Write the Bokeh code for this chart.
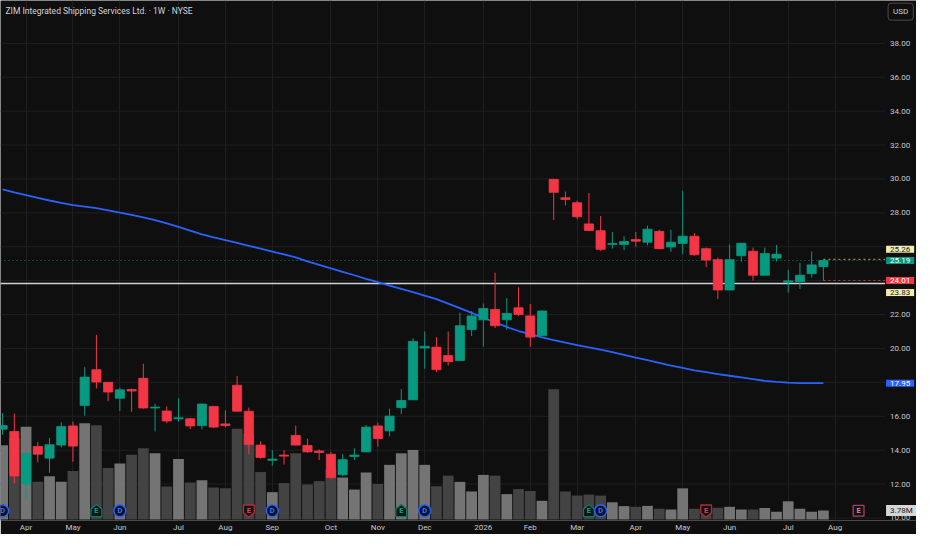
import numpy as np
from bokeh.plotting import figure
from bokeh.models import Range1d, FixedTicker, Label
from bokeh.embed import file_html
from bokeh.resources import INLINE
from bokeh.core.properties import value

# ---------------- data (weekly bars, index 0 = week of 7 Apr 2025) ----------------
week_index = list(range(-2, 69))
opens = [15.24, 15.10, 12.00, 14.22, 13.53, 14.30, 15.43, 16.64, 18.75, 18.00,
         17.06, 17.58, 18.24, 16.49, 16.31, 15.85, 15.85, 15.45, 16.58, 15.55,
         17.83, 16.30, 14.30, 13.40, 13.71, 14.87, 14.28, 13.95, 13.76, 12.55,
         13.63, 13.90, 15.43, 15.14, 16.51, 16.97, 20.03, 20.08, 19.58, 19.29,
         21.11, 21.69, 22.30, 21.69, 22.40, 21.92, 20.75, 29.98, 28.89, 28.60,
         27.35, 26.95, 26.14, 26.14, 26.43, 26.27, 26.91, 25.99, 26.20, 26.62,
         25.89, 25.24, 23.45, 25.47, 25.74, 24.32, 25.33, 23.91, 23.94, 24.41, 24.83]
highs = [16.18, 16.16, 13.85, 14.49, 14.72, 15.64, 15.68, 18.90, 20.80, 18.02,
         17.70, 17.62, 19.10, 16.74, 16.58, 17.06, 15.90, 16.74, 16.60, 16.35,
         18.37, 16.51, 14.53, 14.00, 14.00, 15.45, 14.68, 14.05, 13.90, 13.76,
         14.11, 15.49, 15.62, 16.45, 17.60, 20.61, 21.00, 20.67, 21.00, 22.11,
         22.21, 22.65, 24.47, 22.97, 23.61, 22.63, 22.25, 29.98, 29.25, 28.73,
         29.17, 27.81, 26.87, 26.62, 26.87, 27.25, 27.00, 27.00, 29.31, 26.81,
         25.95, 25.37, 26.14, 26.21, 25.95, 25.95, 26.10, 24.64, 25.05, 25.72, 25.26]
lows = [14.91, 12.04, 11.07, 13.28, 12.67, 14.15, 13.32, 16.03, 17.64, 16.89,
        16.31, 16.26, 16.45, 15.10, 15.59, 15.68, 15.24, 15.24, 15.30, 15.36,
        16.28, 13.76, 13.50, 13.09, 13.15, 14.28, 13.85, 13.42, 12.30, 12.46,
        13.42, 13.90, 14.21, 14.82, 16.12, 16.97, 18.81, 18.60, 19.00, 19.29,
        20.73, 20.10, 21.21, 21.11, 21.92, 20.10, 20.75, 27.58, 28.44, 27.62,
        26.92, 25.76, 25.89, 25.80, 26.01, 26.08, 25.85, 25.70, 25.56, 25.47,
        24.80, 22.92, 23.45, 25.12, 24.00, 24.32, 25.14, 23.30, 23.51, 24.18, 24.01]
closes = [15.45, 12.48, 13.80, 13.76, 14.32, 15.39, 14.24, 18.31, 18.02, 17.43,
          17.56, 17.49, 16.49, 16.54, 15.72, 15.91, 15.43, 16.72, 15.36, 15.45,
          16.30, 14.34, 13.57, 13.47, 13.65, 14.30, 13.90, 13.86, 12.38, 13.44,
          13.71, 15.36, 14.68, 16.01, 16.93, 20.42, 20.13, 18.75, 19.23, 21.34,
          21.92, 22.36, 21.34, 22.07, 22.01, 20.67, 22.21, 29.21, 28.79, 27.77,
          26.96, 25.85, 26.19, 26.31, 26.33, 27.04, 25.89, 26.27, 26.62, 25.53,
          25.22, 23.45, 25.24, 26.21, 24.32, 25.60, 25.56, 23.99, 24.32, 24.93, 25.19]
volumes_m = [31.0, 33.7, 38.7, 15.7, 18.0, 15.7, 20.2, 40.1, 39.3, 21.5,
             23.4, 27.0, 29.7, 27.6, 13.8, 25.2, 15.4, 16.4, 13.4, 13.0,
             37.8, 35.6, 19.8, 11.4, 15.2, 27.6, 14.6, 16.0, 20.9, 17.5,
             12.5, 19.6, 14.8, 22.8, 27.6, 29.0, 22.8, 13.9, 18.3, 15.7,
             11.7, 18.6, 18.3, 10.6, 12.7, 11.9, 7.8, 54.3, 11.7, 10.0,
             10.4, 10.0, 7.2, 5.6, 5.3, 5.7, 4.5, 4.2, 13.0, 4.5,
             5.2, 4.9, 5.3, 4.2, 4.2, 4.8, 3.2, 7.6, 4.5, 3.2, 3.78]
ma_values = [29.38, 29.21, 29.05, 28.89, 28.73, 28.59, 28.46, 28.37, 28.28, 28.15,
             28.02, 27.88, 27.74, 27.57, 27.38, 27.18, 26.95, 26.73, 26.56, 26.39,
             26.23, 26.06, 25.89, 25.72, 25.55, 25.37, 25.14, 24.93, 24.72, 24.52,
             24.32, 24.11, 23.91, 23.71, 23.51, 23.32, 23.12, 22.91, 22.65, 22.38,
             22.10, 21.82, 21.54, 21.27, 21.03, 20.84, 20.66, 20.49, 20.34, 20.20,
             20.07, 19.93, 19.78, 19.62, 19.46, 19.31, 19.15, 18.99, 18.85, 18.71,
             18.60, 18.49, 18.39, 18.29, 18.19, 18.09, 18.03, 17.99, 17.96, 17.95, 17.95]

month_ticks = [0, 4, 8, 13, 17, 21, 26, 30, 34, 39, 43, 47, 52, 56, 60, 65, 69]
month_labels = ["Apr", "May", "Jun", "Jul", "Aug", "Sep", "Oct", "Nov", "Dec",
                "2026", "Feb", "Mar", "Apr", "May", "Jun", "Jul", "Aug"]
price_grid = [10, 12, 14, 16, 18, 20, 22, 24, 26, 28, 30, 32, 34, 36, 38]
price_tick_labels = [10, 12, 14, 16, 20, 22, 28, 30, 32, 34, 36, 38]

earn_weeks = [6, 19, 32, 48, 58, 71]
earn_kind = ["beat", "miss", "beat", "beat", "miss", "next"]
div_weeks = [-2, 8, 21, 34, 49]

last_close = 25.19
last_high_tag = 25.26
last_low_tag = 24.01
level_line = 23.83
ma_last = 17.95
last_volume = 3.78

# ---------------- styling ----------------
BG = "#0f0f0f"
GRID = "#1f1f1f"
UP = "#089981"
DN = "#f23645"
VOL_UP = "#747474"
VOL_DN = "#434343"
TXT = "#c6c8ce"
FONT = "Roboto"

X0, XE, X1 = -2.18, 73.26, 75.94   # left edge, price-scale edge, right edge
Y0, Y1 = 9.85, 40.53
MARK_Y = 10.42
PX_X = 1 / 11.93   # data units per pixel (x)
PX_Y = 1 / 17.37   # data units per pixel (y)

idx = np.array(week_index, dtype=float)
o = np.array(opens); c = np.array(closes)
h = np.array(highs); l = np.array(lows)
up = c >= o
ccol = [UP if u else DN for u in up]
vcol = [VOL_UP if u else VOL_DN for u in up]

p = figure(width=916, height=534, output_backend="svg", toolbar_location=None,
           x_range=Range1d(X0, X1), y_range=Range1d(Y0, Y1),
           y_axis_location=None, min_border_left=0, min_border_top=0,
           min_border_right=0, min_border_bottom=14)
p.background_fill_color = BG
p.border_fill_color = BG
p.outline_line_color = None
p.extra_y_ranges = {"vol": Range1d(-0.4, 216.3)}

# grid
p.xgrid.grid_line_color = GRID
p.ygrid.grid_line_color = None
p.segment(x0=[X0] * len(price_grid), y0=price_grid, x1=[XE] * len(price_grid),
          y1=price_grid, line_color=GRID, line_width=1)

# x axis
p.xaxis.ticker = FixedTicker(ticks=month_ticks)
p.xaxis.major_label_overrides = {t: s for t, s in zip(month_ticks, month_labels)}
ax = p.xaxis[0]
ax.axis_line_color = None
ax.major_tick_line_color = None
ax.minor_tick_line_color = None
ax.major_tick_out = 0
ax.major_tick_in = 0
ax.minor_tick_out = 0
ax.major_label_text_color = TXT
ax.major_label_text_font = FONT
ax.major_label_text_font_size = "8px"
ax.major_label_standoff = 2

# price scale labels
p.text(x=[XE] * len(price_tick_labels), y=price_tick_labels,
       text=[f"{t:.2f}" for t in price_tick_labels], x_offset=5,
       text_color=TXT, text_font=value(FONT), text_font_size="8px",
       text_align="left", text_baseline="middle")

# volume
p.vbar(x=idx, top=volumes_m, bottom=0, width=0.92, fill_color=vcol, line_color=None,
       y_range_name="vol")

# level lines
p.segment(x0=[X0], y0=[level_line], x1=[XE], y1=[level_line], line_color="#cfd1d6",
          line_width=1.6)
p.segment(x0=[X0], y0=[last_close], x1=[XE], y1=[last_close], line_color=UP,
          line_width=1, line_dash="1 3", line_alpha=0.8)
p.segment(x0=[week_index[-1]], y0=[last_high_tag], x1=[XE], y1=[last_high_tag],
          line_color="#b8a94a", line_width=1, line_dash="2 3")
p.segment(x0=[week_index[-1]], y0=[last_low_tag], x1=[XE], y1=[last_low_tag],
          line_color=DN, line_width=1, line_dash="2 3", line_alpha=0.8)

# moving average
p.line(idx, ma_values, line_color="#2962ff", line_width=1.8)

# candles
p.segment(x0=idx, y0=l, x1=idx, y1=h, line_color=ccol, line_width=1)
p.vbar(x=idx, top=np.maximum(o, c), bottom=np.minimum(o, c), width=0.78,
       fill_color=ccol, line_color=ccol, line_width=0.8)

# earnings / dividend markers
house_up = [(-5.5, -6), (5.5, -6), (5.5, 2), (0, 6.5), (-5.5, 2)]
house_dn = [(-5.5, 6), (5.5, 6), (5.5, -2), (0, -6.5), (-5.5, -2)]
box = [(-5.5, -5.5), (5.5, -5.5), (5.5, 5.5), (-5.5, 5.5)]
xs, ys, lc, tc = [], [], [], []
for w, k in zip(earn_weeks, earn_kind):
    shape = {"beat": house_up, "miss": house_dn, "next": box}[k]
    xs.append([w + dx * PX_X for dx, dy in shape])
    ys.append([MARK_Y + dy * PX_Y for dx, dy in shape])
    lc.append({"beat": "#0b7a68", "miss": "#b8283a", "next": "#b43a62"}[k])
    tc.append({"beat": "#12a488", "miss": "#e0404f", "next": "#e77fa0"}[k])
p.patches(xs, ys, fill_color="#101414", line_color=lc, line_width=1.3)
p.text(x=earn_weeks, y=[MARK_Y] * len(earn_weeks), text=["E"] * len(earn_weeks),
       text_color=tc, text_font=value(FONT), text_font_size="7.5px",
       text_align="center", text_baseline="middle", text_font_style="bold")
p.scatter(x=div_weeks, y=[MARK_Y] * len(div_weeks), marker="circle", size=12,
          fill_color="#0d1226", line_color="#2962ff", line_width=1.5)
p.text(x=div_weeks, y=[MARK_Y] * len(div_weeks), text=["D"] * len(div_weeks),
       text_color="#3d74ff", text_font=value(FONT), text_font_size="7.5px",
       text_align="center", text_baseline="middle", text_font_style="bold")

# title
p.add_layout(Label(x=X0, y=39.9, x_offset=5,
                   text="ZIM Integrated Shipping Services Ltd. \u00b7 1W \u00b7 NYSE",
                   text_color="#d1d4dc", text_font=FONT, text_font_size="8.5px",
                   text_baseline="middle"))


def tag(val, text, bg, fg, dy=0, rng="default"):
    lab = Label(x=XE, y=val, x_offset=1, y_offset=dy, text=text,
                text_align="left", text_baseline="middle", text_font=FONT,
                text_font_size="8px", text_color=fg, background_fill_color=bg,
                padding=(4, 1), y_range_name=rng)
    p.add_layout(lab)


tag(last_high_tag, f"{last_high_tag:.2f}", "#f4ebae", "#1a1a1a", dy=10)
tag(last_close, f"{last_close:.2f}", UP, "#ffffff")
tag(last_low_tag, f"{last_low_tag:.2f}", DN, "#ffffff")
tag(level_line, f"{level_line:.2f}", "#f4ebae", "#1a1a1a", dy=-9)
tag(ma_last, f"{ma_last:.2f}", "#2962ff", "#ffffff")
tag(last_volume, f"{last_volume:.2f}M", "#d6d6d6", "#1a1a1a", rng="vol")
p.add_layout(Label(x=XE, y=39.87, x_offset=3, text="USD", text_align="left",
                   text_baseline="middle", text_font=FONT, text_font_size="8px",
                   text_color="#d1d4dc", background_fill_color=BG,
                   border_line_color="#4a4a4a", padding=(5, 4), border_radius=3))

open("out.html", "w").write(file_html(p, INLINE))
